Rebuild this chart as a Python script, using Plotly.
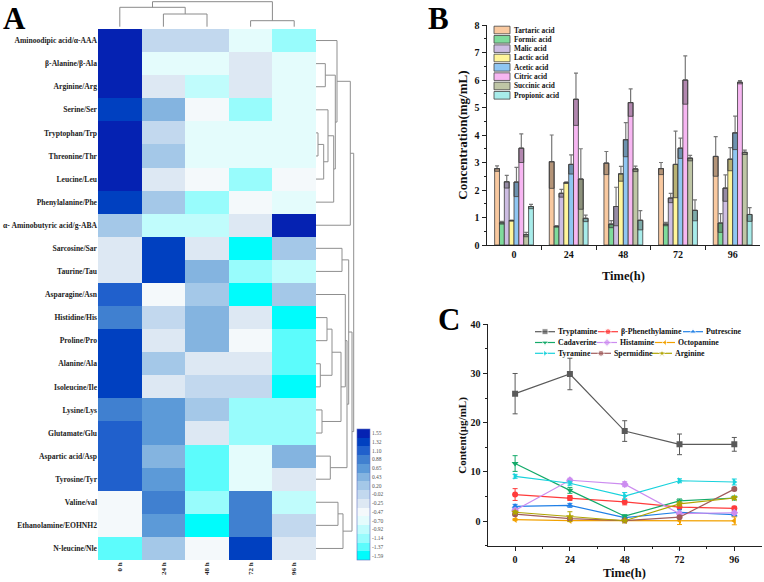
import numpy as np
import plotly.graph_objects as go

W, H = 764, 582
def px(x): return x / W
def py(y): return 1 - y / H

SERIF = "Liberation Serif"

# ---------------- Panel A data ----------------
amino_acids = [
    "Aminoodipic acid/α-AAA", "β-Alanine/β-Ala", "Arginine/Arg", "Serine/Ser",
    "Tryptophan/Trp", "Threonine/Thr", "Leucine/Leu", "Phenylalanine/Phe",
    "α- Aminobutyric acid/g-ABA", "Sarcosine/Sar", "Taurine/Tau", "Asparagine/Asn",
    "Histidine/His", "Proline/Pro", "Alanine/Ala", "Isoleucine/Ile",
    "Lysine/Lys", "Glutamate/Glu", "Aspartic acid/Asp", "Tyrosine/Tyr",
    "Valine/val", "Ethanolamine/EOHNH2", "N-leucine/Nle",
]
time_labels = ["0 h", "24 h", "48 h", "72 h", "96 h"]
zscores = [
    [1.55, -0.02, -0.02, -0.70, -1.14],
    [1.55, -0.70, -0.70, -0.25, -0.70],
    [1.55, -0.25, -0.92, -0.25, -0.70],
    [1.32, 0.43, -0.47, -1.14, -0.70],
    [1.55, -0.02, -0.70, -0.70, -0.70],
    [1.55, 0.20, -0.70, -0.70, -0.70],
    [1.55, -0.25, -0.47, -1.14, -0.47],
    [1.32, 0.20, -1.14, -0.47, -0.70],
    [0.20, -0.92, -0.92, -0.25, 1.55],
    [-0.25, 1.32, -0.25, -1.59, 0.20],
    [-0.25, 1.32, 0.43, -1.14, -0.92],
    [1.10, -0.47, 0.20, -1.59, 0.20],
    [0.88, -0.02, 0.43, -0.25, -1.59],
    [1.32, -0.25, 0.43, -0.47, -1.37],
    [1.32, 0.20, -0.25, -0.25, -1.37],
    [1.32, -0.25, -0.02, -0.02, -1.59],
    [0.88, 0.65, 0.20, -1.14, -1.14],
    [1.10, 0.65, -0.25, -1.14, -1.14],
    [1.10, 0.43, -1.37, -0.70, 0.43],
    [1.10, 0.65, -1.37, -0.70, -0.25],
    [-0.47, 0.88, -1.14, 0.88, -0.92],
    [-0.47, 0.65, -1.59, 0.88, -0.02],
    [-1.37, 0.20, -0.47, 1.32, -0.25],
]
scale_labels = [-1.59, -1.37, -1.14, -0.92, -0.70, -0.47, -0.25, -0.02,
                0.20, 0.43, 0.65, 0.88, 1.10, 1.32, 1.55]
scale_colors = ["#00fcfc", "#5cfcfc", "#98fcfc", "#c0fcfc", "#e4fcfc", "#f4f9fb",
                "#dde8f3", "#c2d8ee", "#a4c8e8", "#84b4e0", "#5c9ad8", "#4080d0",
                "#2060cc", "#0040c0", "#0522b2"]
# linkage: (left node, right node, merge height)
row_links = [
    (1, 2, 9.3), (4, 5, 2.0), (24, 6, 7.7), (3, 25, 12.0), (26, 7, 17.7),
    (23, 27, 19.3), (0, 28, 21.0), (29, 8, 34.3), (9, 10, 26.0), (12, 13, 11.0),
    (14, 15, 4.3), (32, 33, 16.0), (16, 17, 6.0), (34, 35, 25.0), (11, 36, 29.3),
    (18, 19, 14.3), (37, 38, 31.0), (20, 21, 22.0), (40, 22, 27.0), (31, 39, 32.7),
    (42, 41, 36.0), (30, 43, 37.7),
]
col_links = [(1, 2, 12.7), (0, 5, 19.4), (3, 4, 6.0), (6, 7, 25.0)]

# ---------------- Panel B data ----------------
times_b = ["0", "24", "48", "72", "96"]
acids = ["Tartaric acid", "Formic acid", "Malic acid", "Lactic acid",
         "Acetic acid", "Citric acid", "Succinic acid", "Propionic acid"]
acid_colors = ["#f9c9a0", "#7fdb9c", "#cdbde3", "#fff59a",
               "#8fc6f2", "#f7b6f2", "#bfc6a6", "#a8ecea"]
tartaric = [2.78, 3.03, 2.98, 2.78, 3.22]
tartaric_err = [0.10, 0.97, 0.42, 0.22, 0.72]
formic = [0.81, 0.68, 0.76, 0.76, 0.80]
formic_err = [0.05, 0.03, 0.13, 0.06, 0.34]
malic = [2.30, 1.88, 1.40, 1.71, 2.07]
malic_err = [0.23, 0.14, 0.70, 0.17, 0.48]
lactic = [0.89, 2.27, 2.59, 2.93, 3.12]
lactic_err = [0.02, 0.03, 0.27, 1.21, 0.42]
acetic = [2.29, 2.93, 3.83, 3.52, 4.08]
acetic_err = [0.53, 0.35, 0.62, 0.37, 0.61]
citric = [3.52, 5.30, 5.18, 6.00, 5.92]
citric_err = [0.52, 0.95, 0.50, 0.88, 0.06]
succinic = [0.38, 2.40, 2.77, 3.16, 3.37]
succinic_err = [0.08, 1.10, 0.10, 0.10, 0.08]
propionic = [1.40, 0.97, 0.90, 1.26, 1.11]
propionic_err = [0.08, 0.12, 0.35, 0.38, 0.25]
acid_values = [tartaric, formic, malic, lactic, acetic, citric, succinic, propionic]
acid_errors = [tartaric_err, formic_err, malic_err, lactic_err, acetic_err,
               citric_err, succinic_err, propionic_err]

# ---------------- Panel C data ----------------
hours = [0, 24, 48, 72, 96]
amines = ["Tryptamine", "β-Phenethylamine", "Putrescine",
          "Cadaverine", "Histamine", "Octopamine",
          "Tyramine", "Spermidine", "Arginine"]
amine_colors = ["#5a5a5a", "#ff3b3b", "#1f7fe6", "#14aa6a", "#cc8cf0",
                "#f2a100", "#18d2dc", "#a05c5c", "#b0a400"]
amine_symbols = ["square", "circle", "triangle-up", "triangle-down", "diamond",
                 "triangle-left", "triangle-right", "circle", "star"]
tryptamine = [25.9, 29.9, 18.3, 15.6, 15.6]
tryptamine_err = [4.1, 3.2, 2.1, 2.1, 1.4]
phenethylamine = [5.4, 4.7, 3.9, 2.85, 2.6]
phenethylamine_err = [1.2, 0.5, 0.6, 0.5, 0.4]
putrescine = [3.0, 3.2, 0.7, 1.8, 1.3]
putrescine_err = [0.4, 0.4, 0.2, 0.5, 0.3]
cadaverine = [11.7, 6.25, 1.0, 4.1, 4.7]
cadaverine_err = [1.6, 0.6, 0.3, 0.4, 0.4]
histamine = [2.2, 8.3, 7.5, 1.5, 1.7]
histamine_err = [0.3, 0.4, 0.5, 0.3, 0.3]
octopamine = [0.3, 0.1, 0.1, 0.1, 0.05]
octopamine_err = [0.2, 0.2, 0.2, 0.8, 0.8]
tyramine = [9.1, 7.7, 5.1, 8.2, 7.95]
tyramine_err = [0.4, 0.4, 0.7, 0.4, 0.6]
spermidine = [1.4, 0.5, 0.1, 0.8, 6.5]
spermidine_err = [0.3, 0.2, 0.1, 0.2, 0.3]
arginine = [1.8, 0.9, 0.07, 3.5, 4.7]
arginine_err = [0.3, 1.0, 0.1, 0.4, 0.3]
amine_values = [tryptamine, phenethylamine, putrescine, cadaverine, histamine,
                octopamine, tyramine, spermidine, arginine]
amine_errors = [tryptamine_err, phenethylamine_err, putrescine_err, cadaverine_err,
                histamine_err, octopamine_err, tyramine_err, spermidine_err, arginine_err]

# ---------------- legend layout (pixels) ----------------
legend_b_left, legend_b_top, legend_b_row = 494, 30, 9.33
legend_c_rows = [331.7, 342.5, 353.3]
legend_c_starts = [535, 598, 683, 535, 597, 655, 535, 591, 652]
legend_c_seg = 20


def dendro_segments(n_leaves, links):
    pos = {i: float(i) for i in range(n_leaves)}
    hgt = {i: 0.0 for i in range(n_leaves)}
    sp, sh = [], []
    for k, (a, b, h) in enumerate(links):
        node = n_leaves + k
        sp += [pos[a], pos[a], pos[b], pos[b], None]
        sh += [hgt[a], h, h, hgt[b], None]
        pos[node] = (pos[a] + pos[b]) / 2
        hgt[node] = h
    return sp, sh


fig = go.Figure()

# ---- Heatmap ----
n_bands = len(scale_colors)
step = (scale_labels[-1] - scale_labels[0]) / (n_bands - 1)
zmin = scale_labels[0] - step / 2
zmax = scale_labels[-1] + step / 2
colorscale = []
for i, c in enumerate(scale_colors):
    colorscale.append([i / n_bands, c])
    colorscale.append([(i + 1) / n_bands, c])

fig.add_trace(go.Heatmap(
    z=zscores, x=list(range(len(time_labels))), y=list(range(len(amino_acids))),
    colorscale=colorscale, zmin=zmin, zmax=zmax, xaxis="x", yaxis="y",
    colorbar=dict(x=px(357), xanchor="left", y=py(494.5), yanchor="middle",
                  len=131 / H, lenmode="fraction", thickness=13,
                  thicknessmode="pixels", outlinewidth=0.6, outlinecolor="#6070c0",
                  tickvals=scale_labels, ticktext=[f"{v:.2f}" for v in scale_labels],
                  tickfont=dict(family=SERIF, size=5.5, color="#555"),
                  ticks="", xpad=0, ypad=0),
    hoverinfo="skip",
))

# ---- column dendrogram ----
cp, ch = dendro_segments(len(time_labels), col_links)
fig.add_trace(go.Scatter(x=cp, y=ch, mode="lines", xaxis="x2", yaxis="y2",
                         line=dict(color="#8a8a8a", width=1), showlegend=False,
                         hoverinfo="skip"))
# ---- row dendrogram ----
rp, rh = dendro_segments(len(amino_acids), row_links)
fig.add_trace(go.Scatter(x=rh, y=rp, mode="lines", xaxis="x3", yaxis="y3",
                         line=dict(color="#8f8f8f", width=1), showlegend=False,
                         hoverinfo="skip"))

# ---- Panel B bars ----
bw = 0.71 / len(acids)
for i, (name, col, vals, errs) in enumerate(zip(acids, acid_colors, acid_values, acid_errors)):
    xs = np.arange(len(times_b)) + (i - (len(acids) - 1) / 2) * bw
    vals = np.array(vals)
    errs = np.array(errs)
    fig.add_trace(go.Bar(
        x=xs, y=vals, width=bw, name=name, xaxis="x4", yaxis="y4", showlegend=False,
        marker=dict(color=col, line=dict(color="#3c3c3c", width=0.8)),
        error_y=dict(type="data", symmetric=False, array=errs, arrayminus=[0] * len(errs),
                     color="#777", thickness=1.2, width=2),
        hoverinfo="skip",
    ))
    base = np.maximum(vals - errs, 0)
    fig.add_trace(go.Bar(
        x=xs, y=vals - base, base=base, width=bw, xaxis="x4", yaxis="y4",
        marker=dict(color="rgba(40,40,40,0.33)", line=dict(color="#3c3c3c", width=0.8)),
        showlegend=False, hoverinfo="skip",
    ))

# ---- Panel C lines ----
for i, (name, col, sym, vals, errs) in enumerate(zip(amines, amine_colors, amine_symbols,
                                                       amine_values, amine_errors)):
    fig.add_trace(go.Scatter(
        x=hours, y=vals, name=name, mode="lines+markers", xaxis="x5", yaxis="y5",
        showlegend=False,
        line=dict(color=col, width=1.2),
        marker=dict(symbol=sym, size=6, color=col),
        error_y=dict(type="data", array=errs, color=col, thickness=1, width=2.5),
        hoverinfo="skip",
    ))

# ---- compact legends (drawn on a pixel overlay axis) ----
shapes = []
annotations = []
for i, (name, col) in enumerate(zip(acids, acid_colors)):
    yc = legend_b_top + i * legend_b_row
    shapes.append(dict(type="rect", xref="x6", yref="y6",
                       x0=legend_b_left, x1=legend_b_left + 16,
                       y0=yc - 3.8, y1=yc + 3.8, fillcolor=col,
                       line=dict(color="#444", width=0.8)))
    annotations.append(dict(text=name, x=legend_b_left + 18, y=yc, xref="x6", yref="y6",
                            xanchor="left", yanchor="middle", showarrow=False,
                            font=dict(family=SERIF, size=7.3, color="#111", weight="bold")))

for i, (name, col, sym) in enumerate(zip(amines, amine_colors, amine_symbols)):
    x0 = legend_c_starts[i]
    yc = legend_c_rows[i // 3]
    fig.add_trace(go.Scatter(
        x=[x0, x0 + legend_c_seg / 2, x0 + legend_c_seg], y=[yc, yc, yc],
        mode="lines+markers", xaxis="x6", yaxis="y6", showlegend=False,
        line=dict(color=col, width=1.2),
        marker=dict(symbol=sym, size=[0, 6, 0], color=col),
        hoverinfo="skip"))
    annotations.append(dict(text=name, x=x0 + legend_c_seg + 1, y=yc, xref="x6", yref="y6",
                            xanchor="left", yanchor="middle", showarrow=False,
                            font=dict(family=SERIF, size=7.8, color="#111", weight="bold")))

axis_font = dict(family=SERIF, size=10, color="#111", weight="bold")
common = dict(showline=True, linecolor="#222", linewidth=1.2, showgrid=False,
              zeroline=False, ticks="outside", ticklen=4, tickwidth=1,
              tickcolor="#222", tickfont=axis_font)
hide = dict(visible=False, showgrid=False, zeroline=False)

fig.update_layout(
    width=W, height=H, margin=dict(l=0, r=0, t=0, b=0, pad=0, autoexpand=False),
    paper_bgcolor="white", plot_bgcolor="rgba(0,0,0,0)",
    barmode="overlay", showlegend=False,
    xaxis=dict(domain=[px(98), px(316)], range=[-0.5, 4.5], showgrid=False,
               zeroline=False, tickmode="array", tickvals=list(range(5)),
               ticktext=time_labels, tickangle=-90, ticks="",
               tickfont=dict(family=SERIF, size=7, color="#222", weight="bold")),
    yaxis=dict(domain=[py(560), py(29)], range=[22.5, -0.5], showgrid=False,
               zeroline=False, tickmode="array", tickvals=list(range(len(amino_acids))),
               ticktext=amino_acids, ticks="",
               tickfont=dict(family=SERIF, size=7.6, color="#222", weight="bold")),
    xaxis2=dict(domain=[px(98), px(316)], range=[-0.5, 4.5], anchor="y2", **hide),
    yaxis2=dict(domain=[py(28), py(0)], range=[-1.3, 26.7], anchor="x2", **hide),
    xaxis3=dict(domain=[px(316), px(358)], range=[0, 42], anchor="y3", **hide),
    yaxis3=dict(domain=[py(560), py(29)], range=[22.5, -0.5], anchor="x3", **hide),
    xaxis4=dict(domain=[px(486.7), px(760)], range=[-0.5, 4.5], anchor="y4",
                tickmode="array", tickvals=list(range(5)), ticktext=times_b,
                minor=dict(tickmode="array", tickvals=[0.5, 1.5, 2.5, 3.5],
                           ticks="outside", ticklen=4, tickcolor="#222"),
                **{**common, "ticks": ""}),
    yaxis4=dict(domain=[py(245), py(25)], range=[0, 8], anchor="x4",
                tickmode="array", tickvals=list(range(9)),
                minor=dict(dtick=0.5, ticks="outside", ticklen=2, tickcolor="#222"),
                **common),
    xaxis5=dict(domain=[px(487.7), px(761.7)], range=[-12, 108], anchor="y5",
                tickmode="array", tickvals=hours,
                minor=dict(tickmode="array", tickvals=[12, 36, 60, 84],
                           ticks="outside", ticklen=2, tickcolor="#222"),
                **common),
    yaxis5=dict(domain=[py(545.7), py(324.3)], range=[-5, 40], anchor="x5",
                tickmode="array", tickvals=[0, 10, 20, 30, 40],
                minor=dict(tickmode="array", tickvals=[-5, 5, 15, 25, 35],
                           ticks="outside", ticklen=2, tickcolor="#222"),
                **common),
    xaxis6=dict(domain=[0, 1], range=[0, W], anchor="y6", **hide),
    yaxis6=dict(domain=[0, 1], range=[H, 0], anchor="x6", **hide),
    shapes=shapes,
)

title_font = dict(family=SERIF, size=13, color="#111", weight="bold")
letter_font = dict(family=SERIF, size=31, color="#000", weight="bold")
annotations += [
    dict(text="A", x=px(1), y=py(18), xanchor="left", yanchor="middle", font=letter_font),
    dict(text="B", x=px(426), y=py(18), xanchor="left", yanchor="middle", font=letter_font),
    dict(text="C", x=px(436), y=py(319), xanchor="left", yanchor="middle", font=letter_font),
    dict(text="Concentration(mg/mL)", x=px(461.7), y=py(135), textangle=-90,
         xanchor="center", yanchor="middle", font=title_font),
    dict(text="Time(h)", x=px(623), y=py(275.5), xanchor="center", yanchor="middle",
         font=dict(family=SERIF, size=12.5, color="#111", weight="bold")),
    dict(text="Content(μg/mL)", x=px(461.7), y=py(435), textangle=-90,
         xanchor="center", yanchor="middle",
         font=dict(family=SERIF, size=11, color="#111", weight="bold")),
    dict(text="Time(h)", x=px(624.7), y=py(573), xanchor="center", yanchor="middle",
         font=dict(family=SERIF, size=12.5, color="#111", weight="bold")),
]
for a in annotations:
    a.setdefault("xref", "paper")
    a.setdefault("yref", "paper")
    a["showarrow"] = False
fig.update_layout(annotations=annotations)

fig.write_html(
    "out.html",
    config={"displayModeBar": False, "staticPlot": True},
    post_script="document.body.style.margin='0';document.body.style.padding='0';"
                "document.body.style.overflow='hidden';",
)
